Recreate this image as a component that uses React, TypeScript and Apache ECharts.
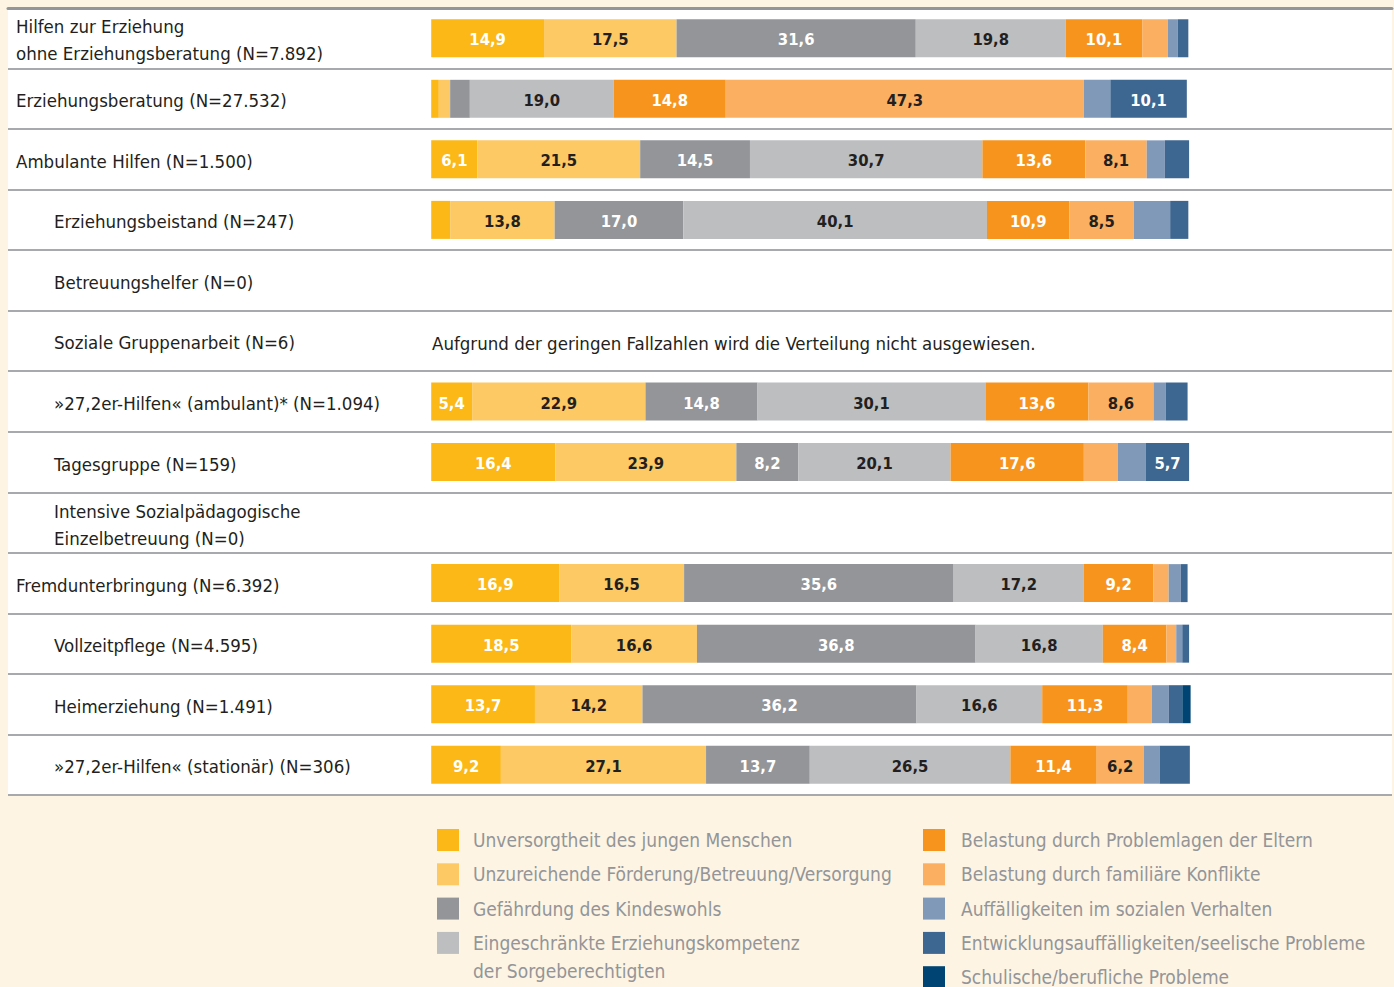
import React, { useEffect, useRef } from 'react';
import * as echarts from 'echarts';

const categories = [
  'Hilfen zur Erziehung\nohne Erziehungsberatung (N=7.892)',
  'Erziehungsberatung (N=27.532)',
  'Ambulante Hilfen (N=1.500)',
  'Erziehungsbeistand (N=247)',
  'Betreuungshelfer (N=0)',
  'Soziale Gruppenarbeit (N=6)',
  '»27,2er-Hilfen« (ambulant)* (N=1.094)',
  'Tagesgruppe (N=159)',
  'Intensive Sozialpädagogische\nEinzelbetreuung (N=0)',
  'Fremdunterbringung (N=6.392)',
  'Vollzeitpflege (N=4.595)',
  'Heimerziehung (N=1.491)',
  '»27,2er-Hilfen« (stationär) (N=306)',
];
const subCategory = [false, false, false, true, true, true, true, true, true, false, true, true, true];

const seriesNames = [
  'Unversorgtheit des jungen Menschen',
  'Unzureichende Förderung/Betreuung/Versorgung',
  'Gefährdung des Kindeswohls',
  'Eingeschränkte Erziehungskompetenz\nder Sorgeberechtigten',
  'Belastung durch Problemlagen der Eltern',
  'Belastung durch familiäre Konflikte',
  'Auffälligkeiten im sozialen Verhalten',
  'Entwicklungsauffälligkeiten/seelische Probleme',
  'Schulische/berufliche Probleme',
];

const unversorgtheit = [14.9, 1.0, 6.1, 2.5, null, null, 5.4, 16.4, null, 16.9, 18.5, 13.7, 9.2];
const foerderung = [17.5, 1.5, 21.5, 13.8, null, null, 22.9, 23.9, null, 16.5, 16.6, 14.2, 27.1];
const kindeswohl = [31.6, 2.6, 14.5, 17.0, null, null, 14.8, 8.2, null, 35.6, 36.8, 36.2, 13.7];
const erziehungskompetenz = [19.8, 19.0, 30.7, 40.1, null, null, 30.1, 20.1, null, 17.2, 16.8, 16.6, 26.5];
const problemlagen = [10.1, 14.8, 13.6, 10.9, null, null, 13.6, 17.6, null, 9.2, 8.4, 11.3, 11.4];
const konflikte = [3.4, 47.3, 8.1, 8.5, null, null, 8.6, 4.5, null, 2.0, 1.3, 3.2, 6.2];
const sozialesVerhalten = [1.3, 3.5, 2.4, 4.8, null, null, 1.6, 3.7, null, 1.6, 0.8, 2.2, 2.1];
const entwicklung = [1.4, 10.1, 3.2, 2.4, null, null, 2.9, 5.7, null, 0.9, 0.9, 1.8, 4.0];
const schulisch = [0, 0, 0, 0, null, null, 0, 0, null, 0, 0, 1.1, 0];

const seriesData = [
  unversorgtheit, foerderung, kindeswohl, erziehungskompetenz,
  problemlagen, konflikte, sozialesVerhalten, entwicklung, schulisch,
];

const noteText = 'Aufgrund der geringen Fallzahlen wird die Verteilung nicht ausgewiesen.';

const colors = ['#fbb817', '#fdc964', '#939598', '#bcbec0', '#f7941e', '#fbb061', '#8199b8', '#3d6690', '#004473'];
const labelColors = ['#ffffff', '#231f20', '#ffffff', '#231f20', '#ffffff', '#231f20', '#ffffff', '#ffffff', '#ffffff'];

const FONT = '"Liberation Sans Narrow", "DejaVu Sans Condensed", "Roboto", sans-serif';

export default function App() {
  const ref = useRef<HTMLDivElement>(null);
  useEffect(() => {
    if (!ref.current) return;
    const chart = echarts.init(ref.current, null, { renderer: 'svg' });

    const legendGraphics: any[] = [];
    seriesNames.forEach((name, i) => {
      const col = i < 4 ? 0 : 1;
      const row = i < 4 ? i : i - 4;
      const mx = col === 0 ? 437 : 923;
      const tx = col === 0 ? 473 : 961;
      const cy = 840 + row * 34.3;
      legendGraphics.push({
        type: 'rect',
        shape: { x: mx, y: cy - 11, width: 22, height: 22 },
        style: { fill: colors[i] },
        silent: true,
      });
      legendGraphics.push({
        type: 'text',
        x: tx,
        y: cy - 14,
        style: {
          text: name,
          fill: '#939598',
          font: `19px ${FONT}`,
          lineHeight: 28,
          verticalAlign: 'top',
          align: 'left',
        },
        silent: true,
      });
    });

    const option: any = {
      animation: false,
      backgroundColor: '#fdf4e3',
      grid: {
        left: 8,
        right: 2,
        top: 8,
        bottom: 192,
        show: true,
        backgroundColor: '#ffffff',
        borderWidth: 0,
        containLabel: false,
      },
      xAxis: {
        type: 'value',
        position: 'top',
        min: -55.9,
        max: 126.9,
        axisLine: { show: true, lineStyle: { color: '#939598', width: 3 } },
        axisTick: { show: false },
        axisLabel: { show: false },
        splitLine: { show: false },
      },
      yAxis: {
        type: 'category',
        data: categories,
        inverse: true,
        axisLine: { show: false },
        axisTick: { show: false },
        splitLine: { show: true, lineStyle: { color: '#a7a9ac', width: 2 } },
        axisLabel: {
          inside: true,
          margin: 8,
          interval: 0,
          align: 'left',
          formatter: (v: string, idx: number) => (subCategory[idx] ? `{sub|${v}}` : `{main|${v}}`),
          rich: {
            main: { fontFamily: FONT, fontSize: 18.5, color: '#231f20', lineHeight: 27, padding: [4, 0, 0, 0] },
            sub: { fontFamily: FONT, fontSize: 18.5, color: '#231f20', lineHeight: 27, padding: [4, 0, 0, 38] },
          },
        },
      },
      series: seriesNames.map((name, i) => ({
        name,
        type: 'bar',
        stack: 'total',
        barWidth: 38,
        silent: true,
        data: seriesData[i],
        itemStyle: { color: colors[i] },
        emphasis: { disabled: true },
        label: {
          show: true,
          position: 'inside',
          offset: [0, 1.5],
          color: labelColors[i],
          fontFamily: FONT,
          fontSize: 16.5,
          fontWeight: 'bold',
          formatter: (p: any) => (p.value != null && p.value >= 5 ? p.value.toFixed(1).replace('.', ',') : ''),
        },
      })),
      graphic: [
        {
          type: 'text',
          x: 432,
          y: 343,
          style: {
            text: noteText,
            fill: '#231f20',
            font: `18.5px ${FONT}`,
            verticalAlign: 'middle',
            align: 'left',
          },
          silent: true,
        },
        ...legendGraphics,
      ],
    };
    chart.setOption(option);
    return () => chart.dispose();
  }, []);
  return <div ref={ref} style={{ position: 'fixed', left: 0, top: 0, width: 1394, height: 987 }} />;
}
